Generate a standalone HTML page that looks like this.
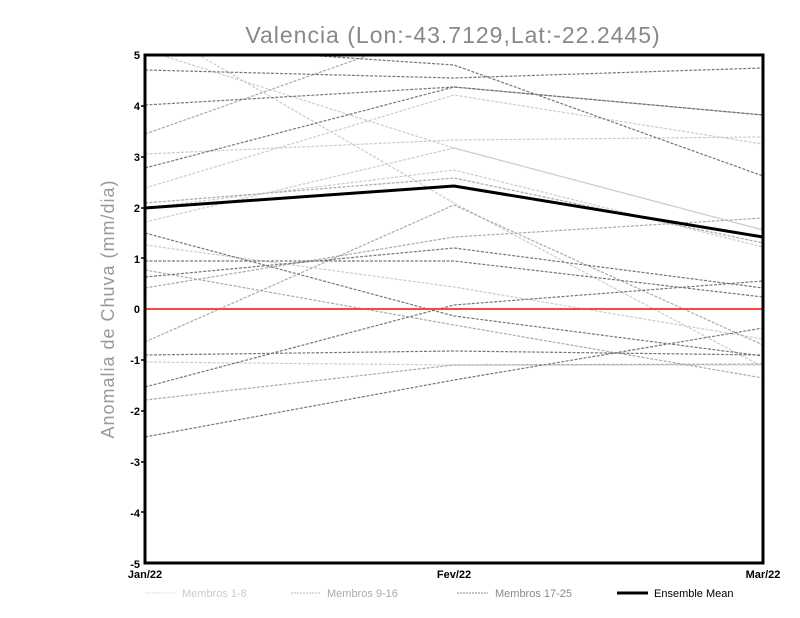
<!DOCTYPE html>
<html><head><style>body{margin:0;background:#fff}svg{display:block}</style></head><body>
<svg width="800" height="618" xmlns="http://www.w3.org/2000/svg" font-family="Liberation Sans, sans-serif">
<rect width="800" height="618" fill="#fff"/>
<text x="453" y="43" text-anchor="middle" font-size="23" fill="#888" letter-spacing="1">Valencia (Lon:-43.7129,Lat:-22.2445)</text>
<text transform="translate(114,309) rotate(-90)" text-anchor="middle" font-size="18" fill="#999" letter-spacing="1">Anomalia de Chuva (mm/dia)</text>
<defs><clipPath id="c"><rect x="145" y="55" width="618" height="508"/></clipPath></defs>
<g clip-path="url(#c)" fill="none" stroke-width="1.2" stroke-dasharray="3,1.5">
<g stroke="#ccc">
<polyline points="145,154 454,140 763,137"/>
<polyline points="145,188 454,95 763,144"/>
<polyline points="145,222 454,148 763,230"/>
<polyline points="145,50 454,148 763,230"/>
<polyline points="145,245 454,287 763,339"/>
<polyline points="145,362 454,365 763,365"/>
<polyline points="190,50 454,203 763,367"/>
<polyline points="145,208 454,170 763,247"/>
</g>
<g stroke="#aaa">
<polyline points="145,134 454,25"/>
<polyline points="145,203 454,178 763,243"/>
<polyline points="145,270 454,325 763,378"/>
<polyline points="145,342 454,205 763,345"/>
<polyline points="145,400 454,365 763,364"/>
<polyline points="145,288 454,237 763,218"/>
</g>
<g stroke="#777">
<polyline points="145,70 454,78 763,68"/>
<polyline points="145,105 454,87 763,115"/>
<polyline points="145,168 454,87 763,115"/>
<polyline points="230,50 454,65 763,176"/>
<polyline points="145,261 454,261 763,297"/>
<polyline points="145,277 454,248 763,288"/>
<polyline points="145,233 454,316 763,356"/>
<polyline points="145,355 454,351 763,355"/>
<polyline points="145,387 454,305 763,281"/>
<polyline points="145,437 454,380 763,328"/>
</g>
</g>
<line x1="145" y1="309" x2="763" y2="309" stroke="#f44" stroke-width="2"/>
<polyline points="145,208 454,186 763,237" fill="none" stroke="#000" stroke-width="3"/>
<rect x="145" y="55" width="618" height="508" fill="none" stroke="#000" stroke-width="3"/>
<g font-size="11" font-weight="bold" text-anchor="end" fill="#000">
<text x="140" y="59">5</text><text x="140" y="110">4</text><text x="140" y="161">3</text><text x="140" y="212">2</text><text x="140" y="263">1</text><text x="140" y="313">0</text><text x="140" y="364">-1</text><text x="140" y="415">-2</text><text x="140" y="466">-3</text><text x="140" y="517">-4</text><text x="140" y="568">-5</text>
</g>
<g stroke="#000" stroke-width="1.5">
<line x1="141" y1="106" x2="145" y2="106"/><line x1="141" y1="157" x2="145" y2="157"/><line x1="141" y1="208" x2="145" y2="208"/><line x1="141" y1="258" x2="145" y2="258"/><line x1="141" y1="360" x2="145" y2="360"/><line x1="141" y1="411" x2="145" y2="411"/><line x1="141" y1="462" x2="145" y2="462"/><line x1="141" y1="512" x2="145" y2="512"/>
</g>
<g font-size="11" font-weight="bold" text-anchor="middle" fill="#000">
<text x="145" y="578">Jan/22</text><text x="454" y="578">Fev/22</text><text x="763" y="578">Mar/22</text>
</g>
<g font-size="11" fill="#999">
<line x1="146" y1="593" x2="176" y2="593" stroke="#ddd" stroke-dasharray="2,1"/><text x="182" y="597" fill="#ccc">Membros 1-8</text>
<line x1="291" y1="593" x2="321" y2="593" stroke="#bbb" stroke-dasharray="2,1"/><text x="327" y="597" fill="#aaa">Membros 9-16</text>
<line x1="457" y1="593" x2="488" y2="593" stroke="#888" stroke-dasharray="2,1"/><text x="495" y="597" fill="#888">Membros 17-25</text>
<line x1="617" y1="593" x2="648" y2="593" stroke="#000" stroke-width="3"/><text x="654" y="597" fill="#000">Ensemble Mean</text>
</g>
</svg>
</body></html>
